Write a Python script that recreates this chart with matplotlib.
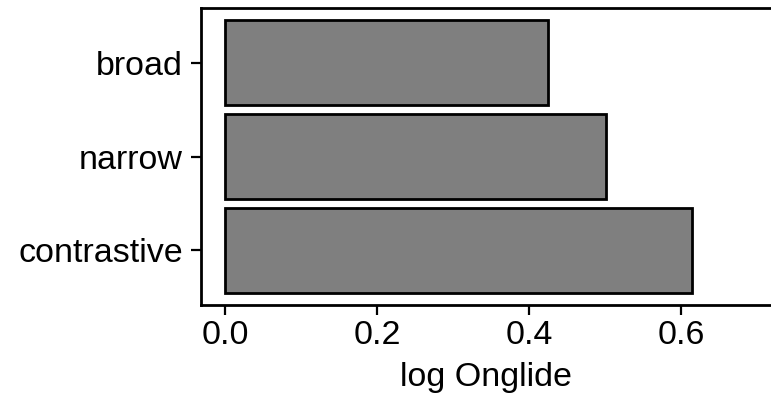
import matplotlib
matplotlib.use('Agg')
from matplotlib import pyplot as plt

categories = ['contrastive', 'narrow', 'broad']
values = [0.614, 0.501, 0.425]
xticks = [0.0, 0.2, 0.4, 0.6]

plt.rcParams['font.family'] = ['Liberation Sans', 'DejaVu Sans']

fig = plt.figure(figsize=(7.71, 3.96), dpi=100)
ax = fig.add_axes([201 / 771, 1 - 305 / 396, 1 - 201 / 771, (305 - 8) / 396])

ax.barh(range(1, len(categories) + 1), values, height=0.9, color='#7f7f7f',
        edgecolor='black', linewidth=2)

ax.set_xlim(-0.0316, 0.718)
ax.set_ylim(0.42, 3.58)
ax.set_yticks(range(1, len(categories) + 1))
ax.set_yticklabels(categories)
ax.set_xticks(xticks)
ax.set_xticklabels(['%.1f' % t for t in xticks])
ax.tick_params(labelsize=24.5, length=7, width=1.6, pad=4, colors='black')
ax.tick_params(axis='y', pad=6)
ax.set_xlabel('log Onglide', fontsize=24.5, labelpad=8)

for s in ['left', 'top', 'bottom']:
    ax.spines[s].set_linewidth(2)
ax.spines['right'].set_visible(False)

fig.savefig('out.png', dpi=100)
